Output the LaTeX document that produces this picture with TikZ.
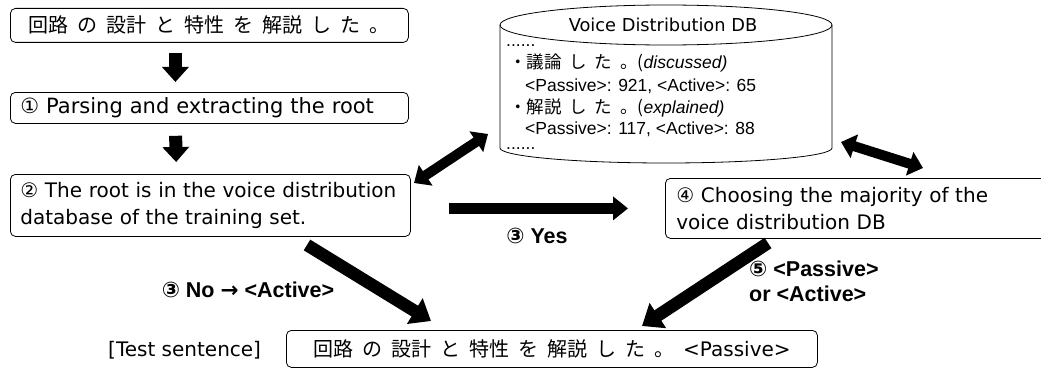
\documentclass[tikz,border=0pt]{standalone}
\usepackage{fontspec}
\setmainfont{DejaVu Sans}
\newfontfamily\jp{Noto Sans CJK JP}
\newfontfamily\arial{Liberation Sans}
\usetikzlibrary{arrows.meta,calc}
\newcommand\jsp{\hspace{0.45em}}
\newcommand\cnum[1]{{\rmfamily\bfseries #1}}
\begin{document}
\begin{tikzpicture}[x=1pt,y=-1pt,
  box/.style={draw, rounded corners=5pt, line width=0.8pt, inner xsep=10pt, inner ysep=0pt,
    font=\fontsize{20}{25}\selectfont, anchor=north west},
  twoline/.style={font=\fontsize{20}{27}\selectfont},
  downarrow/.style={line width=13pt, -{Triangle[length=15pt,width=26pt]}},
  bigarrow/.style={line width=12.5pt, -{Triangle[length=19pt,width=29pt]}},
  yesarrow/.style={line width=11.5pt, -{Triangle[length=15pt,width=23pt]}},
  dblarrow/.style={line width=10pt, {Triangle[length=14pt,width=24pt]}-{Triangle[length=14pt,width=24pt]}},
  lab/.style={font=\arial\bfseries\fontsize{21.5}{25}\selectfont, align=left, inner sep=0pt},
  dbtxt/.style={font=\arial\fontsize{17.5}{20}\selectfont, anchor=base west, inner sep=0pt},
  dbjp/.style={font=\jp\fontsize{17.5}{20}\selectfont, anchor=base west, inner sep=0pt}
]
\useasboundingbox (0,0) rectangle (1041,369);

% boxes
\node[box, minimum width=398pt, minimum height=34pt, align=center] (s0) at (10,8)
  {\jp 回路\jsp の\jsp 設計\jsp と\jsp 特性\jsp を\jsp 解説\jsp し\jsp た\jsp 。};
\node[box, minimum width=398pt, minimum height=31pt, text width=378pt, align=left,
  font=\fontsize{21}{25}\selectfont] (s1) at (10,92)
  {① Parsing and extracting the root};
\node[box, twoline, minimum width=400pt, minimum height=62pt, text width=380pt, align=left] (s2) at (10,174)
  {② The root is in the voice distribution\\database of the training set.};
\node[box, twoline, minimum width=400pt, minimum height=60pt, text width=378pt, inner xsep=11pt, align=left] (s4) at (665,178)
  {④ Choosing the majority of the\\voice distribution DB};
\node[box, minimum width=531pt, minimum height=37pt, align=center] (test) at (286,330)
  {{\jp 回路\jsp の\jsp 設計\jsp と\jsp 特性\jsp を\jsp 解説\jsp し\jsp た\jsp 。\jsp}<Passive>};
\node[font=\fontsize{20}{25}\selectfont, anchor=west, inner sep=0pt] (tl) at (108,350) {[Test sentence]};

% database cylinder
\node[minimum width=332pt, minimum height=158pt, anchor=north west, inner sep=0pt] (db) at (500,5) {};
\draw[line width=0.8pt] (666,25) ellipse [x radius=166, y radius=20];
\draw[line width=0.8pt] (500,25) -- (500,148) arc[start angle=180, end angle=0, x radius=166, y radius=15] -- (832,25);
\node[font=\fontsize{17.8}{20}\selectfont, anchor=base, inner sep=0pt] (dbt) at (663,32) {Voice Distribution DB};
\node[dbtxt] (l0) at (506,47) {......};
\node[dbjp] (l1) at (509,69) {・議論\jsp し\jsp た\jsp 。(\arial\itshape discussed)};
\node[dbtxt] (l2) at (525,91) {<Passive>: 921, <Active>: 65};
\node[dbjp] (l3) at (509,113) {・解説\jsp し\jsp た\jsp 。(\arial\itshape explained)};
\node[dbtxt] (l4) at (525,134) {<Passive>: 117, <Active>: 88};
\node[dbtxt] (l5) at (506,149) {......};

% arrows
\draw[downarrow, shorten <=10pt, shorten >=10pt] ([xshift=-34pt]s0.south) -- ([xshift=-34pt]s1.north);
\draw[downarrow, shorten <=12pt, shorten >=12pt] ([xshift=-34pt]s1.south) -- ([xshift=-34pt]s2.north);
\draw[yesarrow, shorten <=38pt, shorten >=37pt] (s2.east |- s4.west) -- (s4.west);

\coordinate (noS) at (307,245);
\coordinate (noE) at (431,321);
\draw[bigarrow] (noS) -- (noE);
\coordinate (paS) at (768,243);
\coordinate (paE) at (642,326);
\draw[bigarrow] (paS) -- (paE);
\coordinate (d1a) at (414,183);
\coordinate (d1b) at (488,134);
\draw[dblarrow] (d1a) -- (d1b);
\coordinate (d2a) at (841,142);
\coordinate (d2b) at (923,168);
\draw[dblarrow] (d2a) -- (d2b);

% labels
\node[lab] (yes) at (537,236) {\cnum{③} Yes};
\node[lab] (no) at (248,290) {\cnum{③} No \cnum{→} <Active>};
\node[lab, anchor=north west] (pa) at (749,261) {\cnum{⑤} <Passive>\\or <Active>};
\end{tikzpicture}
\end{document}
